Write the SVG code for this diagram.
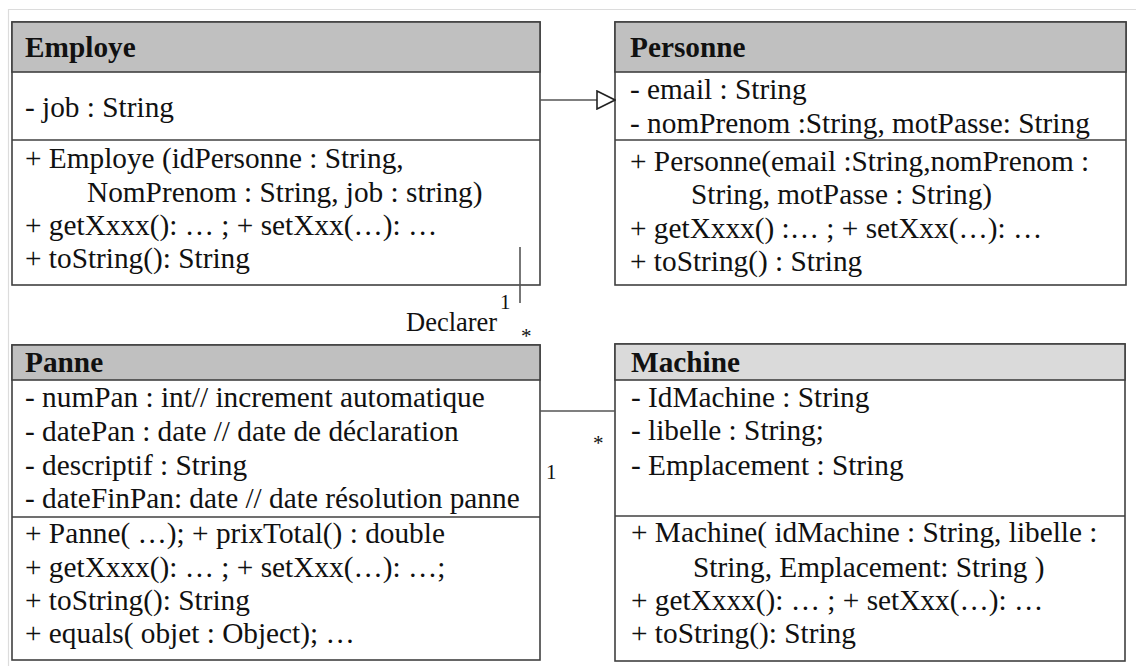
<svg xmlns="http://www.w3.org/2000/svg" width="1136" height="666" viewBox="0 0 1136 666">
  <style>
    .box { fill: #ffffff; stroke: #404040; stroke-width: 1.6; }
    .hdr { fill: #c0c0c0; stroke: #404040; stroke-width: 1.6; }
    .hdr2 { fill: #dadada; stroke: #404040; stroke-width: 1.6; }
    .sep { stroke: #404040; stroke-width: 1.4; }
    .t { font-family: "Liberation Serif", "Times New Roman", serif; font-size: 29.3px; fill: #111; }
    .title { font-family: "Liberation Serif", "Times New Roman", serif; font-size: 29.3px; font-weight: bold; fill: #111; }
    .lbl { font-family: "Liberation Serif", "Times New Roman", serif; font-size: 26.5px; fill: #111; }
    .small { font-family: "Liberation Serif", "Times New Roman", serif; font-size: 21px; fill: #111; }
    .conn { stroke: #555; stroke-width: 1.6; fill: none; }
  </style>
  <defs>
    <marker id="inherit" viewBox="0 0 20 20" refX="19" refY="10" markerWidth="20" markerHeight="20" markerUnits="userSpaceOnUse" orient="auto">
      <path d="M1,1 L19,10 L1,19 Z" fill="#ffffff" stroke="#222" stroke-width="1.6"/>
    </marker>
  </defs>

  <!-- page frame -->
  <path d="M8.5,666 V9.5 H1136" fill="none" stroke="#dcdcdc" stroke-width="1.2"/>

  <!-- Employe -->
  <g id="employe">
    <rect class="box" x="12" y="22" width="528" height="263"/>
    <rect class="hdr" x="12" y="22" width="528" height="50"/>
    <line class="sep" x1="12" y1="140" x2="540" y2="140"/>
    <text class="title" x="25" y="57">Employe</text>
    <text class="t" x="25" y="117">- job : String</text>
    <text class="t" x="25" y="168">+ Employe (idPersonne : String,</text>
    <text class="t" x="87" y="202">NomPrenom : String, job : string)</text>
    <text class="t" x="25" y="235">+ getXxxx(): … ; + setXxx(…): …</text>
    <text class="t" x="25" y="268">+ toString(): String</text>
  </g>

  <!-- Personne -->
  <g id="personne">
    <rect class="box" x="615" y="22" width="511" height="263"/>
    <rect class="hdr" x="615" y="22" width="511" height="50"/>
    <line class="sep" x1="615" y1="140" x2="1126" y2="140"/>
    <text class="title" x="630" y="57">Personne</text>
    <text class="t" x="630" y="99">- email : String</text>
    <text class="t" x="630" y="133">- nomPrenom :String, motPasse: String</text>
    <text class="t" x="630" y="171">+ Personne(email :String,nomPrenom :</text>
    <text class="t" x="691" y="204">String, motPasse : String)</text>
    <text class="t" x="630" y="238">+ getXxxx() :… ; + setXxx(…): …</text>
    <text class="t" x="630" y="271">+ toString() : String</text>
  </g>

  <!-- Panne -->
  <g id="panne">
    <rect class="box" x="12" y="345" width="528" height="315"/>
    <rect class="hdr" x="12" y="345" width="528" height="35"/>
    <line class="sep" x1="12" y1="517" x2="540" y2="517"/>
    <text class="title" x="25" y="372">Panne</text>
    <text class="t" x="25" y="407">- numPan : int// increment automatique</text>
    <text class="t" x="25" y="441">- datePan : date // date de déclaration</text>
    <text class="t" x="25" y="475">- descriptif : String</text>
    <text class="t" x="25" y="508">- dateFinPan: date // date résolution panne</text>
    <text class="t" x="25" y="543">+ Panne( …); + prixTotal() : double</text>
    <text class="t" x="25" y="577">+ getXxxx(): … ; + setXxx(…): …;</text>
    <text class="t" x="25" y="610">+ toString(): String</text>
    <text class="t" x="25" y="643">+ equals( objet : Object); …</text>
  </g>

  <!-- Machine -->
  <g id="machine">
    <rect class="box" x="615" y="344" width="510" height="317"/>
    <rect class="hdr2" x="615" y="344" width="510" height="36"/>
    <line class="sep" x1="615" y1="516" x2="1125" y2="516"/>
    <text class="title" x="631" y="372">Machine</text>
    <text class="t" x="631" y="407">- IdMachine : String</text>
    <text class="t" x="631" y="440">- libelle : String;</text>
    <text class="t" x="631" y="475">- Emplacement : String</text>
    <text class="t" x="631" y="542">+ Machine( idMachine : String, libelle :</text>
    <text class="t" x="693" y="577">String, Emplacement: String )</text>
    <text class="t" x="631" y="610">+ getXxxx(): … ; + setXxx(…): …</text>
    <text class="t" x="631" y="643">+ toString(): String</text>
  </g>

  <!-- connectors -->
  <g id="connectors">
    <!-- Employe inherits from Personne -->
    <line class="conn" x1="540" y1="100" x2="615" y2="100" stroke="#222" marker-end="url(#inherit)"/>
    <!-- Declarer: Employe 1 - * Panne -->
    <line class="conn" x1="520" y1="247" x2="520" y2="303"/>
    <text class="small" x="500" y="309">1</text>
    <text class="lbl" x="406" y="331">Declarer</text>
    <text class="small" x="521" y="343">*</text>
    <!-- Panne 1 - * Machine -->
    <line class="conn" x1="540" y1="411" x2="615" y2="411"/>
    <text class="small" x="593" y="450">*</text>
    <text class="small" x="546" y="479">1</text>
  </g>
</svg>
